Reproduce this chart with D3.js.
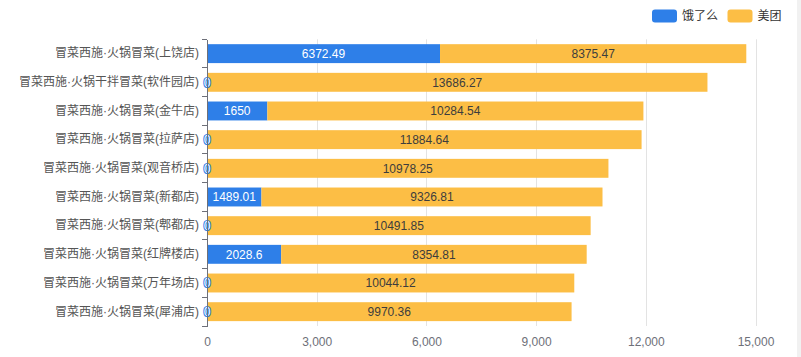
<!DOCTYPE html>
<html>
<head>
<meta charset="utf-8">
<script src="https://cdn.jsdelivr.net/npm/d3@7"></script>
<style>
  html, body { margin: 0; padding: 0; background: #fff; }
  svg { display: block; font-family: "Liberation Sans", "Noto Sans CJK SC", sans-serif; }
</style>
</head>
<body>
<svg id="chart" width="801" height="357"></svg>
<script>
const categories = [
  "冒菜西施·火锅冒菜(上饶店)",
  "冒菜西施·火锅干拌冒菜(软件园店)",
  "冒菜西施·火锅冒菜(金牛店)",
  "冒菜西施·火锅冒菜(拉萨店)",
  "冒菜西施·火锅冒菜(观音桥店)",
  "冒菜西施·火锅冒菜(新都店)",
  "冒菜西施·火锅冒菜(郫都店)",
  "冒菜西施·火锅冒菜(红牌楼店)",
  "冒菜西施·火锅冒菜(万年场店)",
  "冒菜西施·火锅冒菜(犀浦店)"
];
const elemeValues = [6372.49, 0, 1650, 0, 0, 1489.01, 0, 2028.6, 0, 0];
const meituanValues = [8375.47, 13686.27, 10284.54, 11884.64, 10978.25, 9326.81, 10491.85, 8354.81, 10044.12, 9970.36];
const seriesNames = ["饿了么", "美团"];
const xTicks = [0, 3000, 6000, 9000, 12000, 15000];

(function () {
const colors = ["#2e7fe8", "#fcbe45"];
const labelColors = ["#ffffff", "#3d3d3d"];
const FONT = "\"Liberation Sans\", \"Noto Sans CJK SC\", sans-serif";

const svg = d3.select("#chart");

// right edge stripe (frame)
svg.append("rect").attr("x", 797).attr("y", 0).attr("width", 4).attr("height", 357).attr("fill", "#f1f1f1");

const pLeft = 207, pRight = 755.5, pTop = 39.3, pBottom = 326;
const x = d3.scaleLinear().domain([0, 15000]).range([pLeft, pRight]);
const y = d3.scaleBand().domain(categories).range([pTop, pBottom]).paddingInner(0.34).paddingOuter(0.17);

// grid lines
svg.append("g").selectAll("line").data(xTicks.filter(d => d > 0)).join("line")
  .attr("x1", d => Math.round(x(d)) + 0.5).attr("x2", d => Math.round(x(d)) + 0.5)
  .attr("y1", pTop).attr("y2", pBottom)
  .attr("stroke", "#e3e3e3").attr("stroke-width", 1);

// x axis labels
const xAxis = svg.append("g").attr("transform", `translate(0,${pBottom})`)
  .call(d3.axisBottom(x).tickValues(xTicks).tickSize(0).tickPadding(11).tickFormat(d3.format(",")));
xAxis.select(".domain").remove();
xAxis.selectAll("text").attr("fill", "#6e7079").attr("font-size", 12).attr("font-family", FONT);

// stacked data
const stackData = categories.map((c, i) => ({ cat: c, e: elemeValues[i], m: meituanValues[i] }));
const layers = d3.stack().keys(["e", "m"])(stackData);

layers.forEach((layer, li) => {
  svg.append("g").selectAll("rect").data(layer).join("rect")
    .attr("x", d => x(d[0]))
    .attr("width", d => x(d[1]) - x(d[0]))
    .attr("y", d => y(d.data.cat))
    .attr("height", y.bandwidth())
    .attr("fill", colors[li]);
});

// labels
const valueArrays = [elemeValues, meituanValues];
layers.forEach((layer, li) => {
  svg.append("g").selectAll("text").data(layer).join("text")
    .attr("x", d => (x(d[0]) + x(d[1])) / 2)
    .attr("y", d => y(d.data.cat) + y.bandwidth() / 2)
    .attr("dy", "0.35em")
    .attr("text-anchor", "middle")
    .attr("font-size", 12)
    .each(function(d, i) {
      const v = valueArrays[li][i];
      const t = d3.select(this).text(String(v));
      if (v === 0) {
        t.attr("fill", "#ffffff").attr("stroke", colors[li]).attr("stroke-width", 2)
         .attr("paint-order", "stroke").attr("stroke-linejoin", "round");
      } else {
        t.attr("fill", labelColors[li]);
      }
    });
});

// y axis
const yAxis = svg.append("g").attr("transform", `translate(${pLeft},0)`)
  .call(d3.axisLeft(y).tickSize(0).tickPadding(8));
yAxis.select(".domain").attr("stroke", "#6e7079").attr("shape-rendering", "crispEdges");
yAxis.selectAll("text").attr("fill", "#555").attr("font-size", 12).attr("font-family", FONT);
// boundary ticks
const bounds = categories.map(c => y(c) - y.step() * y.paddingInner() / 2).concat([pBottom]);
yAxis.append("g").selectAll("line").data(bounds).join("line")
  .attr("x1", -5).attr("x2", 0)
  .attr("y1", d => d).attr("y2", d => d)
  .attr("stroke", "#6e7079").attr("shape-rendering", "crispEdges");

// legend
const legendItems = [
  { name: seriesNames[0], color: colors[0], x: 652 },
  { name: seriesNames[1], color: colors[1], x: 727.5 }
];
const lg = svg.append("g");
legendItems.forEach(it => {
  lg.append("rect").attr("x", it.x).attr("y", 9.5).attr("width", 25).attr("height", 13)
    .attr("rx", 3).attr("fill", it.color);
  lg.append("text").attr("x", it.x + 30).attr("y", 16).attr("dy", "0.35em")
    .attr("font-size", 12).attr("fill", "#333").text(it.name);
});
})();
</script>
</body>
</html>
